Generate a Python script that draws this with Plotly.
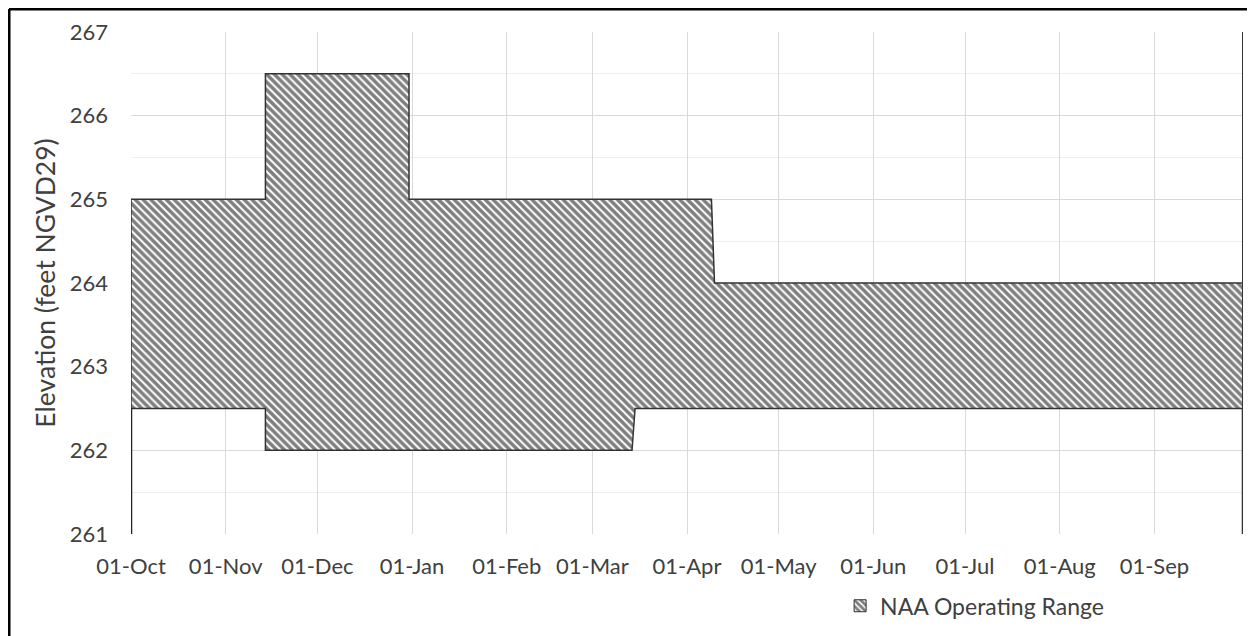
import plotly.graph_objects as go

# operating range vertices (water year, Oct-Sep)
upper_dates = ['2018-10-01', '2018-11-14', '2018-11-14', '2018-12-31', '2018-12-31',
               '2019-04-09', '2019-04-10', '2019-09-30']
upper_elev = [265, 265, 266.5, 266.5, 265, 265, 264, 264]

lower_dates = ['2018-10-01', '2018-11-14', '2018-11-14', '2019-03-14', '2019-03-15',
               '2019-09-30']
lower_elev = [262.5, 262.5, 262, 262, 262.5, 262.5]

month_ticks = ['2018-10-01', '2018-11-01', '2018-12-01', '2019-01-01', '2019-02-01',
               '2019-03-01', '2019-04-01', '2019-05-01', '2019-06-01', '2019-07-01',
               '2019-08-01', '2019-09-01']
y_min, y_max = 261, 267

FONT = 'Lato'
TXT = '#404040'
hatch = dict(shape='\\', fgcolor='black', bgcolor='white', size=5.5, solidity=0.65)

fig = go.Figure()

# hatched band as a closed polygon: upper path then lower path reversed
fig.add_trace(go.Scatter(
    x=upper_dates + lower_dates[::-1] + [upper_dates[0]],
    y=upper_elev + lower_elev[::-1] + [upper_elev[0]],
    mode='lines', fill='toself', fillpattern=hatch,
    line=dict(color='#333333', width=1.5),
    showlegend=False, hoverinfo='skip'))

# dark edges below the band at the start and end of the year
fig.add_trace(go.Scatter(
    x=[lower_dates[0], lower_dates[0], None, lower_dates[-1], lower_dates[-1]],
    y=[y_min, lower_elev[0], None, y_min, lower_elev[-1]],
    mode='lines', line=dict(color='#222222', width=2.5),
    showlegend=False, hoverinfo='skip'))

# legend entry only
fig.add_trace(go.Bar(x=[None], y=[None], name='NAA Operating Range',
                     marker=dict(color='white', pattern=hatch,
                                 line=dict(color='#333333', width=1))))

# the page keeps its 8px body margin, so the figure is 8px smaller each way
fig.update_layout(
    width=1247, height=628,
    margin=dict(l=123, r=12, t=24, b=102, autoexpand=False),
    paper_bgcolor='white', plot_bgcolor='white',
    font=dict(family=FONT, size=22, color=TXT),
    legend=dict(orientation='h', x=0.6377, y=-0.143, xanchor='left', yanchor='middle',
                font=dict(size=23, color=TXT), bgcolor='rgba(0,0,0,0)'),
    shapes=[
        # right edge of plot area
        dict(type='line', xref='x', yref='y', x0=upper_dates[-1], x1=upper_dates[-1],
             y0=y_min, y1=y_max, line=dict(color='#333333', width=2)),
        # outer frame, top and left edges
        dict(type='line', xref='paper', yref='paper', x0=-0.1097, x1=1.2,
             y0=1.0458, y1=1.0458, line=dict(color='black', width=3)),
        dict(type='line', xref='paper', yref='paper', x0=-0.1097, x1=-0.1097,
             y0=-0.3, y1=1.0458, line=dict(color='black', width=3)),
    ],
)

fig.update_xaxes(
    type='date', range=[upper_dates[0], upper_dates[-1]],
    tickvals=month_ticks, tickformat='%d-%b',
    showgrid=True, gridcolor='#d9d9d9', gridwidth=1,
    showline=False, zeroline=False, ticks='',
    ticklabelstandoff=17,
    tickfont=dict(family=FONT, size=22, color=TXT),
)

fig.update_yaxes(
    range=[y_min, y_max], dtick=1, tick0=261,
    showgrid=True, gridcolor='#d9d9d9', gridwidth=1,
    minor=dict(dtick=0.5, showgrid=True, gridcolor='#eeeeee', gridwidth=1),
    showline=False, zeroline=False, ticks='',
    ticklabelstandoff=22,
    tickfont=dict(family=FONT, size=22, color=TXT),
    title=dict(text='Elevation (feet NGVD29)', standoff=6,
               font=dict(family=FONT, size=26.5, color=TXT)),
)

fig.write_html('out.html', config={'displayModeBar': False})
